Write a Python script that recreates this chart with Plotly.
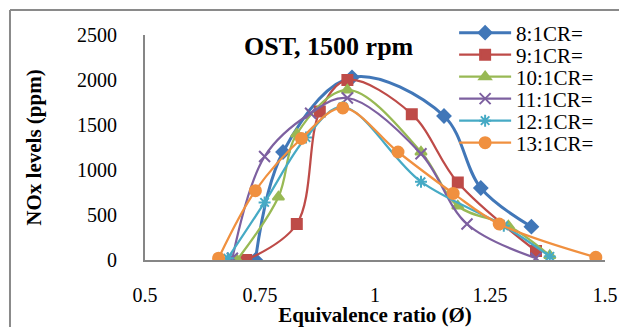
import plotly.graph_objects as go

names = ["8:1CR=", "9:1CR=", "10:1CR=", "11:1CR=", "12:1CR=", "13:1CR="]
x_8 = [0.74, 0.80, 0.95, 1.15, 1.23, 1.34]
y_8 = [0, 1200, 2030, 1600, 800, 370]
x_9 = [0.72, 0.83, 0.88, 0.94, 1.08, 1.18, 1.35]
y_9 = [0, 400, 1650, 2000, 1620, 860, 100]
x_10 = [0.70, 0.79, 0.83, 0.94, 1.10, 1.18, 1.29, 1.38]
y_10 = [0, 700, 1400, 1890, 1200, 600, 380, 50]
x_11 = [0.69, 0.76, 0.86, 0.94, 1.10, 1.20, 1.35]
y_11 = [20, 1150, 1630, 1800, 1180, 400, 20]
x_12 = [0.68, 0.76, 0.85, 0.93, 1.10, 1.28, 1.38]
y_12 = [20, 640, 1360, 1700, 870, 380, 40]
x_13 = [0.66, 0.74, 0.84, 0.93, 1.05, 1.17, 1.27, 1.48]
y_13 = [20, 770, 1350, 1690, 1200, 740, 400, 30]

xs = [x_8, x_9, x_10, x_11, x_12, x_13]
ys = [y_8, y_9, y_10, y_11, y_12, y_13]
colors = ["#4177B8", "#BE4B48", "#98B954", "#7D60A0", "#46AAC5", "#F0903F"]
symbols = ["diamond", "square", "triangle-up", "x-thin-open", "asterisk-open", "circle"]
msizes = [10, 10, 10, 11, 10, 11]
lwidths = [3, 2.25, 2.25, 2.25, 2.25, 2.25]

FONT = "Liberation Serif"

fig = go.Figure()
legend_ids = ["legend", "legend2", "legend3", "legend4", "legend5", "legend6"]
for n, x, y, c, s, ms, lw, lg in zip(names, xs, ys, colors, symbols, msizes, lwidths, legend_ids):
    fig.add_trace(go.Scatter(
        x=x, y=y, name=n, mode="lines+markers", legend=lg,
        line=dict(color=c, width=lw, shape="spline", smoothing=1),
        marker=dict(symbol=s, size=ms, color=c, line=dict(color=c, width=2)),
    ))

legend_layout = {}
for i, lg in enumerate(legend_ids):
    fy = 25 + 22 * i
    legend_layout[lg] = dict(
        x=0.672, y=(252 - fy) / 225, xanchor="left", yanchor="middle",
        bgcolor="rgba(0,0,0,0)", font=dict(family=FONT, size=21, color="black"),
        itemwidth=52, borderwidth=0,
    )

fig.update_layout(
    width=619, height=319,
    margin=dict(l=137, r=22, t=27, b=67, autoexpand=False),
    paper_bgcolor="white", plot_bgcolor="white",
    font=dict(family=FONT, size=20, color="black"),
    showlegend=True,
    **legend_layout,
    xaxis=dict(range=[0.5, 1.5], tickvals=[0.5, 0.75, 1, 1.25, 1.5],
               ticktext=["0.5", "0.75", "1", "1.25", "1.5"],
               showgrid=False, zeroline=False, showline=True,
               linecolor="#868686", linewidth=2, ticks="",
               ticklabelstandoff=16, automargin=False,
               title=dict(text="<b>Equivalence ratio (Ø)</b>", standoff=4,
                          font=dict(family=FONT, size=21)),
               tickfont=dict(family=FONT, size=20)),
    yaxis=dict(range=[0, 2500], tickvals=[0, 500, 1000, 1500, 2000, 2500],
               showgrid=False, zeroline=False, showline=True,
               linecolor="#868686", linewidth=2, ticks="",
               ticklabelstandoff=22, automargin=False,
               title=dict(text="<b>NOx levels (ppm)</b>", standoff=30,
                          font=dict(family=FONT, size=21)),
               tickfont=dict(family=FONT, size=20)),
    annotations=[dict(text="<b>OST, 1500 rpm</b>", xref="paper", yref="paper",
                      x=0.399, y=0.947, xanchor="center", yanchor="middle",
                      showarrow=False,
                      font=dict(family=FONT, size=26, color="black"))],
    shapes=[
        dict(type="line", xref="paper", yref="paper",
             x0=-0.2935, x1=1.05, y0=1.111, y1=1.111,
             line=dict(color="#8A8A8A", width=2)),
        dict(type="line", xref="paper", yref="paper",
             x0=-0.2935, x1=-0.2935, y0=1.111, y1=-0.3,
             line=dict(color="#8A8A8A", width=2)),
    ],
)

fig.write_html("out.html")
